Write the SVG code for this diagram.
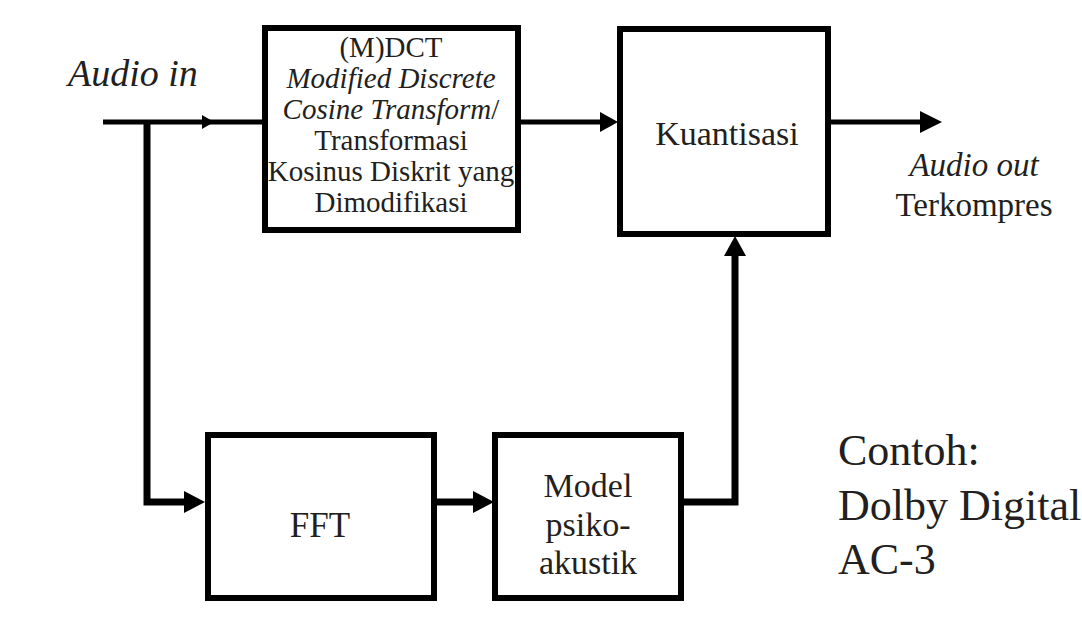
<svg xmlns="http://www.w3.org/2000/svg" width="1082" height="620" viewBox="0 0 1082 620">
  <style>
    .box { fill: #ffffff; stroke: #000000; stroke-width: 6; }
    .wire { fill: none; stroke: #000000; stroke-width: 5; stroke-linejoin: miter; }
    .wire-thick { fill: none; stroke: #000000; stroke-width: 7; stroke-linejoin: miter; }
    .head { fill: #000000; }
    .c { text-anchor: middle; }
    .it { font-style: italic; }
  </style>

  <rect x="0" y="0" width="1082" height="620" fill="#ffffff"/>

  <!-- connectors -->
  <g id="connectors">
    <!-- input line into the transform block -->
    <path class="wire" d="M103,122 H262"/>
    <polygon class="head" points="202,115 214,122 202,129"/>
    <!-- transform -> quantiser -->
    <path class="wire" d="M520,122 H602"/>
    <polygon class="head" points="600,112 618,122 600,132"/>
    <!-- quantiser -> output -->
    <path class="wire" d="M829,122 H922"/>
    <polygon class="head" points="920,111 942,122 920,133"/>
    <!-- branch down to FFT -->
    <path class="wire-thick" d="M147,122 V502 H188"/>
    <polygon class="head" points="184,491 205,502 184,513"/>
    <!-- FFT -> psychoacoustic model -->
    <path class="wire-thick" d="M435,502 H476"/>
    <polygon class="head" points="473,491 494,502 473,513"/>
    <!-- model -> quantiser control input -->
    <path class="wire-thick" d="M683,502 H735 V255"/>
    <polygon class="head" points="724,256 735,236 746,256"/>
  </g>

  <g font-family="Liberation Serif" fill="#231f20">
    <!-- (M)DCT block -->
    <g id="node-mdct">
      <rect class="box" x="265" y="28" width="253" height="202"/>
      <text class="c" x="391" y="57" font-size="29">(M)DCT</text>
      <text class="c it" x="391" y="88" font-size="29">Modified Discrete</text>
      <text class="c" x="391" y="119" font-size="29"><tspan font-style="italic">Cosine Transform</tspan>/</text>
      <text class="c" x="391" y="150" font-size="29">Transformasi</text>
      <text class="c" x="391" y="181" font-size="29">Kosinus Diskrit yang</text>
      <text class="c" x="391" y="212" font-size="29">Dimodifikasi</text>
    </g>

    <!-- quantiser block -->
    <g id="node-kuantisasi">
      <rect class="box" x="620" y="29" width="208" height="205"/>
      <text class="c" x="727" y="145" font-size="34">Kuantisasi</text>
    </g>

    <!-- FFT block -->
    <g id="node-fft">
      <rect class="box" x="208" y="435" width="226" height="163"/>
      <text class="c" x="320" y="537" font-size="35">FFT</text>
    </g>

    <!-- psychoacoustic model block -->
    <g id="node-model">
      <rect class="box" x="495" y="435" width="186" height="163"/>
      <text class="c" x="588" y="497" font-size="34">Model</text>
      <text class="c" x="588" y="536" font-size="34">psiko-</text>
      <text class="c" x="588" y="574" font-size="34">akustik</text>
    </g>

    <!-- input / output labels -->
    <g id="label-input">
      <text class="it" x="68" y="86" font-size="38">Audio in</text>
    </g>
    <g id="label-output">
      <text class="c it" x="974" y="176" font-size="33">Audio out</text>
      <text class="c" x="974" y="216" font-size="33">Terkompres</text>
    </g>

    <!-- example note -->
    <g id="label-example">
      <text x="838" y="465" font-size="44">Contoh:</text>
      <text x="838" y="520" font-size="44">Dolby Digital</text>
      <text x="838" y="574" font-size="44">AC-3</text>
    </g>
  </g>
</svg>
